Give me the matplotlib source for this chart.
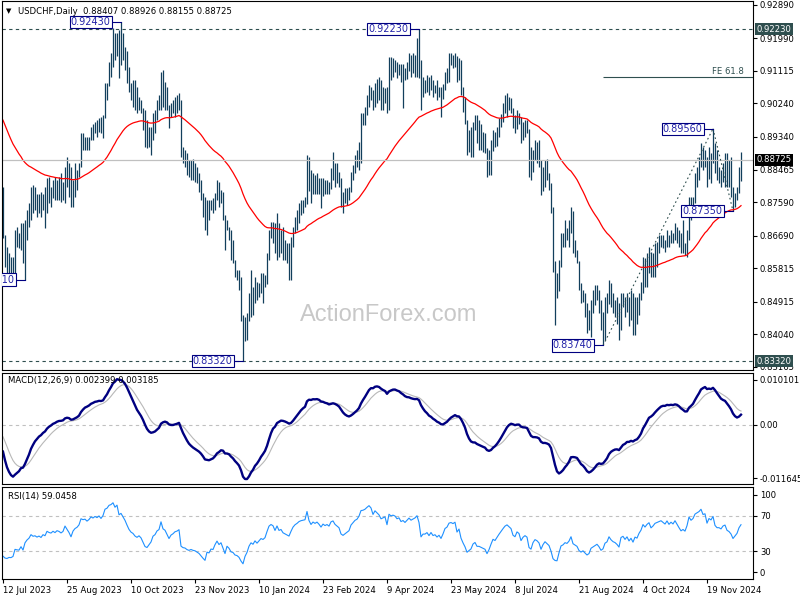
import numpy as np
import matplotlib
matplotlib.use('Agg')
import matplotlib.pyplot as plt
import matplotlib.transforms as mtransforms

plt.rcParams['font.family'] = ['DejaVu Sans']
plt.rcParams['font.size'] = 6.1

# daily bars, USDCHF, in pips (price * 1e4)
high = [8800, 8670, 8639, 8621, 8612, 8612, 8684, 8693, 8675, 8702,
        8702, 8711, 8738, 8756, 8800, 8805, 8800, 8782, 8782, 8787,
        8782, 8800, 8823, 8827, 8800, 8818, 8827, 8818, 8827, 8836,
        8814, 8854, 8881, 8863, 8854, 8818, 8863, 8845, 8863, 8944,
        8944, 8935, 8935, 8935, 8961, 8970, 8975, 8979, 8984, 8988,
        8993, 9078, 9078, 9136, 9158, 9226, 9212, 9212, 9221, 9243,
        9212, 9176, 9165, 9123, 9078, 9087, 9087, 9069, 9042, 9033,
        9011, 9006, 8979, 8961, 8961, 8997, 9006, 9033, 9046, 9109,
        9114, 9082, 9069, 9020, 9024, 9033, 9042, 9046, 9051, 9033,
        8908, 8899, 8890, 8872, 8872, 8876, 8863, 8854, 8836, 8818,
        8783, 8774, 8765, 8765, 8765, 8769, 8783, 8818, 8814, 8791,
        8787, 8725, 8711, 8693, 8684, 8657, 8603, 8577, 8577, 8559,
        8455, 8451, 8460, 8514, 8577, 8532, 8559, 8545, 8541, 8568,
        8568, 8563, 8621, 8684, 8706, 8706, 8702, 8729, 8702, 8684,
        8693, 8657, 8648, 8648, 8666, 8693, 8720, 8738, 8756, 8765,
        8765, 8774, 8885, 8880, 8845, 8836, 8832, 8836, 8823, 8823,
        8823, 8818, 8818, 8814, 8850, 8894, 8863, 8863, 8841, 8823,
        8787, 8796, 8796, 8800, 8841, 8859, 8885, 8899, 8921, 8997,
        8997, 9015, 9046, 9073, 9069, 9060, 9080, 9090, 9096, 9087,
        9069, 9064, 9069, 9149, 9149, 9145, 9140, 9136, 9131, 9131,
        9131, 9118, 9136, 9158, 9154, 9158, 9154, 9199, 9223, 9140,
        9096, 9087, 9100, 9096, 9100, 9087, 9073, 9087, 9069, 9069,
        9075, 9109, 9118, 9158, 9158, 9154, 9158, 9150, 9145, 9140,
        9069, 9042, 8980, 8953, 8961, 8975, 8993, 8993, 8979, 8970,
        8948, 8944, 8903, 8899, 8926, 8953, 8948, 8961, 8984, 8995,
        9024, 9046, 9051, 9042, 9038, 9011, 8993, 9006, 8997, 8988,
        8975, 8979, 8979, 8955, 8908, 8899, 8926, 8921, 8926, 8872,
        8854, 8872, 8876, 8836, 8810, 8745, 8600, 8568, 8603, 8675,
        8675, 8711, 8690, 8711, 8747, 8735, 8657, 8630, 8600, 8541,
        8523, 8514, 8487, 8469, 8496, 8523, 8536, 8536, 8523, 8496,
        8465, 8505, 8514, 8550, 8541, 8514, 8496, 8505, 8487, 8514,
        8514, 8505, 8514, 8505, 8523, 8514, 8505, 8505, 8514, 8545,
        8612, 8608, 8621, 8639, 8625, 8621, 8648, 8653, 8671, 8671,
        8671, 8657, 8684, 8671, 8684, 8675, 8702, 8693, 8684, 8675,
        8711, 8648, 8684, 8774, 8774, 8774, 8836, 8854, 8881, 8917,
        8908, 8899, 8880, 8908, 8890, 8956, 8917, 8899, 8854, 8845,
        8863, 8890, 8890, 8872, 8881, 8800, 8783, 8800, 8854, 8892.6]
low = [8662, 8586, 8568, 8559, 8568, 8559, 8568, 8639, 8635, 8630,
       8595, 8551, 8657, 8693, 8711, 8729, 8738, 8720, 8729, 8720,
       8738, 8689, 8729, 8756, 8747, 8769, 8765, 8765, 8765, 8760,
       8765, 8756, 8800, 8774, 8747, 8747, 8774, 8791, 8827, 8854,
       8899, 8899, 8899, 8899, 8926, 8926, 8944, 8935, 8948, 8944,
       8930, 8984, 9033, 9070, 9096, 9123, 9141, 9150, 9091, 9127,
       9141, 9114, 9080, 9055, 9033, 9015, 9006, 8997, 9006, 8997,
       8953, 8908, 8903, 8908, 8885, 8926, 8944, 8979, 9006, 9006,
       9015, 9006, 9006, 8957, 8988, 8997, 8988, 8997, 9006, 8881,
       8863, 8854, 8832, 8827, 8818, 8818, 8814, 8809, 8787, 8765,
       8720, 8684, 8671, 8711, 8738, 8729, 8738, 8765, 8747, 8756,
       8710, 8630, 8684, 8657, 8604, 8595, 8559, 8550, 8523, 8440,
       8332, 8385, 8390, 8440, 8451, 8455, 8487, 8496, 8505, 8514,
       8487, 8532, 8540, 8603, 8662, 8648, 8621, 8603, 8612, 8621,
       8603, 8603, 8595, 8550, 8550, 8639, 8675, 8684, 8702, 8724,
       8729, 8747, 8755, 8790, 8756, 8780, 8782, 8782, 8782, 8742,
       8775, 8782, 8782, 8782, 8795, 8818, 8800, 8809, 8800, 8747,
       8729, 8756, 8751, 8765, 8785, 8818, 8836, 8854, 8845, 8863,
       8966, 8966, 8993, 9015, 9033, 9006, 9015, 9024, 9033, 9006,
       9006, 9024, 8997, 9005, 9087, 9096, 9109, 9091, 9100, 9082,
       9011, 9087, 9090, 9110, 9096, 9105, 9096, 9096, 9091, 9006,
       9042, 9051, 9055, 9046, 9060, 9042, 9051, 9033, 9042, 8988,
       9035, 9060, 9078, 9082, 9127, 9118, 9123, 9082, 9087, 9046,
       9002, 8970, 8885, 8894, 8881, 8881, 8953, 8917, 8899, 8899,
       8894, 8890, 8827, 8832, 8832, 8895, 8908, 8910, 8935, 8960,
       8975, 8997, 8988, 9006, 8997, 8957, 8944, 8955, 8970, 8917,
       8925, 8935, 8944, 8827, 8818, 8840, 8872, 8863, 8854, 8778,
       8790, 8800, 8818, 8791, 8729, 8572, 8429, 8501, 8520, 8586,
       8639, 8639, 8657, 8639, 8675, 8621, 8612, 8595, 8523, 8487,
       8492, 8451, 8407, 8416, 8398, 8460, 8483, 8496, 8460, 8416,
       8374, 8389, 8460, 8485, 8478, 8460, 8451, 8433, 8389, 8415,
       8478, 8451, 8465, 8425, 8442, 8402, 8402, 8433, 8455, 8496,
       8514, 8532, 8532, 8568, 8559, 8559, 8559, 8586, 8621, 8639,
       8635, 8626, 8639, 8639, 8648, 8648, 8657, 8648, 8639, 8621,
       8621, 8617, 8612, 8657, 8711, 8729, 8756, 8800, 8818, 8854,
       8845, 8854, 8800, 8820, 8809, 8865, 8836, 8818, 8809, 8800,
       8814, 8800, 8800, 8800, 8774, 8735, 8747, 8765, 8783, 8815.5]
close = [8665, 8600, 8585, 8595, 8590, 8600, 8665, 8655, 8650, 8680,
         8620, 8690, 8720, 8740, 8780, 8760, 8765, 8750, 8760, 8745,
         8770, 8760, 8800, 8790, 8785, 8800, 8790, 8805, 8800, 8790,
         8800, 8840, 8820, 8800, 8770, 8810, 8830, 8840, 8860, 8920,
         8915, 8920, 8910, 8925, 8950, 8945, 8960, 8955, 8970, 8960,
         8985, 9060, 9075, 9125, 9140, 9180, 9160, 9200, 9150, 9170,
         9150, 9130, 9100, 9070, 9050, 9040, 9020, 9010, 9020, 9005,
         8970, 8930, 8920, 8935, 8950, 8985, 8995, 9020, 9030, 9095,
         9050, 9040, 9010, 8975, 9000, 9010, 9025, 9030, 9040, 8895,
         8875, 8870, 8850, 8840, 8845, 8835, 8830, 8815, 8800, 8770,
         8735, 8700, 8740, 8730, 8750, 8745, 8770, 8790, 8760, 8770,
         8720, 8650, 8695, 8670, 8620, 8610, 8570, 8560, 8530, 8450,
         8370, 8420, 8450, 8500, 8530, 8510, 8540, 8510, 8530, 8550,
         8540, 8555, 8610, 8670, 8690, 8680, 8640, 8690, 8650, 8660,
         8630, 8620, 8610, 8600, 8640, 8680, 8705, 8720, 8740, 8750,
         8755, 8760, 8870, 8810, 8780, 8810, 8800, 8815, 8800, 8780,
         8810, 8800, 8810, 8800, 8840, 8850, 8830, 8820, 8810, 8770,
         8760, 8770, 8780, 8790, 8830, 8850, 8870, 8880, 8910, 8980,
         8985, 9000, 9030, 9060, 9050, 9020, 9070, 9060, 9050, 9030,
         9040, 9050, 9010, 9130, 9120, 9130, 9125, 9110, 9120, 9100,
         9110, 9100, 9120, 9140, 9130, 9140, 9150, 9170, 9140, 9050,
         9070, 9070, 9080, 9060, 9080, 9060, 9065, 9050, 9060, 9040,
         9065, 9100, 9110, 9140, 9145, 9140, 9150, 9100, 9120, 9060,
         9020, 8980, 8910, 8920, 8930, 8960, 8970, 8930, 8930, 8920,
         8910, 8900, 8850, 8870, 8900, 8930, 8920, 8940, 8960, 8980,
         9000, 9020, 9030, 9020, 9010, 8970, 8960, 8990, 8980, 8930,
         8950, 8960, 8950, 8860, 8840, 8880, 8900, 8890, 8870, 8800,
         8830, 8850, 8830, 8810, 8740, 8590, 8540, 8530, 8590, 8650,
         8660, 8680, 8670, 8690, 8730, 8640, 8620, 8600, 8530, 8500,
         8510, 8470, 8430, 8440, 8480, 8490, 8500, 8510, 8480, 8430,
         8440, 8480, 8490, 8530, 8500, 8480, 8470, 8450, 8420, 8490,
         8500, 8470, 8490, 8450, 8470, 8430, 8470, 8460, 8500, 8530,
         8590, 8570, 8600, 8620, 8580, 8600, 8630, 8640, 8650, 8660,
         8650, 8640, 8670, 8650, 8670, 8660, 8690, 8670, 8650, 8630,
         8640, 8630, 8670, 8760, 8740, 8760, 8820, 8840, 8860, 8900,
         8870, 8880, 8820, 8880, 8870, 8920, 8850, 8830, 8830, 8820,
         8850, 8860, 8820, 8810, 8790, 8750, 8770, 8790, 8840.7, 8872.5]

date_labels = ['12 Jul 2023', '25 Aug 2023', '10 Oct 2023', '23 Nov 2023',
               '10 Jan 2024', '23 Feb 2024', '9 Apr 2024', '23 May 2024',
               '8 Jul 2024', '21 Aug 2024', '4 Oct 2024', '19 Nov 2024']
price_ticks = [0.92890, 0.91990, 0.91115, 0.90240, 0.89340, 0.88465,
               0.87590, 0.86690, 0.85815, 0.84915, 0.84040, 0.83165]
levels = [0.92230, 0.83320]          # dashed support / resistance
macd_text = 'MACD(12,26,9) 0.002399 0.003185'
rsi_text = 'RSI(14) 59.0458'

# indicator state at the first visible bar
ma_start = 0.8979
ema12_start, ema26_start, signal_start = 0.8862, 0.8915, -0.0024
gain_start, loss_start = 0.0013, 0.0040

hi = np.array(high) / 1e4
lo = np.array(low) / 1e4
cl = np.array(close) / 1e4
n = len(cl)
x = np.arange(n)


def ema(values, period, start):
    out = np.empty(len(values))
    out[0] = start
    k = 2.0 / (period + 1)
    for i in range(1, len(values)):
        out[i] = out[i - 1] + k * (values[i] - out[i - 1])
    return out


ma55 = ema(cl, 55, ma_start)
macd = ema(cl, 12, ema12_start) - ema(cl, 26, ema26_start)
signal = ema(macd, 9, signal_start)

rsi = np.empty(n)
g, l = gain_start, loss_start
rsi[0] = 100 - 100 / (1 + g / l)
for i in range(1, n):
    d = cl[i] - cl[i - 1]
    g = (g * 13 + max(d, 0)) / 14
    l = (l * 13 + max(-d, 0)) / 14
    rsi[i] = 100 - 100 / (1 + g / l)

BAR = '#123f5c'
NAVY = '#000080'
LBL = '#2323a8'
SLATE = '#2f4f4f'
GRID = '#c0c0c0'

fig = plt.figure(figsize=(8, 6), dpi=100, facecolor='white')
ax = fig.add_axes([0.0025, 1 - 370 / 600, 0.93875, 369 / 600])
ax_m = fig.add_axes([0.0025, 1 - 484 / 600, 0.93875, 111 / 600])
ax_r = fig.add_axes([0.0025, 1 - 579 / 600, 0.93875, 92 / 600])

for a in (ax, ax_m, ax_r):
    a.set_xlim(-0.5, 375)
    a.yaxis.tick_right()
    a.tick_params(axis='y', direction='out', length=3, width=0.8, pad=2,
                  labelsize=6.1)
    a.tick_params(axis='x', bottom=False, labelbottom=False)
    for s in a.spines.values():
        s.set_linewidth(0.8)

# ---- main panel
ax.set_ylim(0.83082, 0.92989)
ax.vlines(x, lo, hi, color=BAR, lw=0.9)
ax.plot(x, ma55, color='red', lw=0.9)
for lv in levels:
    ax.axhline(lv, color=SLATE, lw=0.8, ls=(0, (3, 3)))
ax.axhline(cl[-1], color=GRID, lw=0.9)

i_low, i_high, i_pull = 300, 355, 365
ax.plot([i_low, i_high], [lo[i_low], hi[i_high]], color=SLATE, lw=0.8, ls=(0, (1.5, 2.5)))
ax.plot([i_high, i_pull], [hi[i_high], lo[i_pull]], color=SLATE, lw=0.8, ls=(0, (1.5, 2.5)))
fe618 = lo[i_pull] + 0.618 * (hi[i_high] - lo[i_low])
ax.hlines(fe618, i_low, 375, color=SLATE, lw=0.8)
ax.text(370.5, fe618 + 0.0004, 'FE 61.8', ha='right', va='bottom', color=SLATE, fontsize=6.1)


def mark(i, price):
    ax.plot([i - 5, i], [price, price], color=NAVY, lw=0.8, zorder=4)
    ax.text(i - 5.2, price, f'{price:.5f}', ha='right', va='center', color=LBL,
            fontsize=7, clip_on=True, zorder=5,
            bbox=dict(boxstyle='square,pad=0.12', fc='white', ec=NAVY, lw=0.8))


for i in (11, 120, 300, 365):
    mark(i, lo[i])
for i in (59, 208, 355):
    mark(i, hi[i])

ax.text(0.515, 0.15, 'ActionForex.com', transform=ax.transAxes, ha='center', va='center',
        color='#c8c8c8', fontsize=17, family='Liberation Sans')
ax.text(0.005, 0.972, '\u25bc', transform=ax.transAxes, fontsize=5, va='center')
ax.text(0.021, 0.972, f'USDCHF,Daily  {cl[-2]:.5f} {hi[-1]:.5f} {lo[-1]:.5f} {cl[-1]:.5f}',
        transform=ax.transAxes, va='center', fontsize=6.1)

ax.set_yticks(price_ticks)
ax.set_yticklabels([f'{p:.5f}' for p in price_ticks])
tr = mtransforms.blended_transform_factory(ax.transAxes, ax.transData)
for lv, fc in ((levels[0], SLATE), (cl[-1], 'black'), (levels[1], SLATE)):
    ax.text(1.0045, lv, f'{lv:.5f}', transform=tr, ha='left', va='center', color='white',
            fontsize=6.1, clip_on=False, zorder=6,
            bbox=dict(boxstyle='square,pad=0.2', fc=fc, ec='none'))

# ---- MACD panel
ax_m.set_ylim(-0.011645, 0.010101)
ax_m.axhline(0, color=GRID, lw=0.8, ls=(0, (3, 3)))
ax_m.plot(x, signal, color='#b8b8b8', lw=0.8)
ax_m.plot(x, macd, color=NAVY, lw=1.7)
ax_m.set_yticks([0.00873, 0.0, -0.01047])
ax_m.set_yticklabels(['0.010101', '0.00', '-0.011645'])
ax_m.text(0.008, 0.935, macd_text, transform=ax_m.transAxes, va='center', fontsize=6.1)

# ---- RSI panel
ax_r.set_ylim(-1.1, 102.2)
for lv in (70, 30):
    ax_r.axhline(lv, color=GRID, lw=0.8, ls=(0, (3, 3)))
ax_r.plot(x, rsi, color='#1e90ff', lw=0.8)
ax_r.set_yticks([93.6, 70, 30, 6.4])
ax_r.set_yticklabels(['100', '70', '30', '0'])
ax_r.text(0.008, 0.9, rsi_text, transform=ax_r.transAxes, va='center', fontsize=6.1)

ax_r.tick_params(axis='x', bottom=True, labelbottom=True, direction='out', length=3,
                 width=0.8, pad=2, labelsize=6.1)
ax_r.set_xticks(np.arange(len(date_labels)) * 32)
ax_r.set_xticklabels(date_labels, ha='left')

fig.savefig('out.png', dpi=100, facecolor='white')
